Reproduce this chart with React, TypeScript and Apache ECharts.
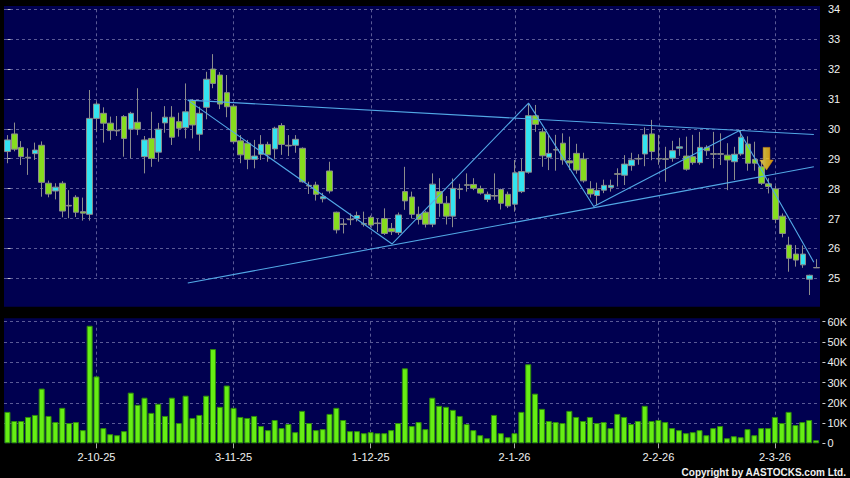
import React, { useEffect, useRef } from "react";
import * as echarts from "echarts";

const dates: string[] = [
  "12-9-25", "15-9-25", "16-9-25", "17-9-25", "18-9-25", "19-9-25", "22-9-25", "23-9-25", "24-9-25", "25-9-25", "26-9-25", "29-9-25", "30-9-25",
  "2-10-25", "3-10-25", "6-10-25", "8-10-25", "9-10-25", "10-10-25", "13-10-25", "14-10-25", "15-10-25", "16-10-25", "17-10-25", "20-10-25", "21-10-25", "22-10-25", "23-10-25", "24-10-25", "27-10-25", "28-10-25", "30-10-25", "31-10-25",
  "3-11-25", "4-11-25", "5-11-25", "6-11-25", "7-11-25", "10-11-25", "11-11-25", "12-11-25", "13-11-25", "14-11-25", "17-11-25", "18-11-25", "19-11-25", "20-11-25", "21-11-25", "24-11-25", "25-11-25", "26-11-25", "27-11-25", "28-11-25",
  "1-12-25", "2-12-25", "3-12-25", "4-12-25", "5-12-25", "8-12-25", "9-12-25", "10-12-25", "11-12-25", "12-12-25", "15-12-25", "16-12-25", "17-12-25", "18-12-25", "19-12-25", "22-12-25", "23-12-25", "24-12-25", "29-12-25", "30-12-25", "31-12-25",
  "2-1-26", "5-1-26", "6-1-26", "7-1-26", "8-1-26", "9-1-26", "12-1-26", "13-1-26", "14-1-26", "15-1-26", "16-1-26", "19-1-26", "20-1-26", "21-1-26", "22-1-26", "23-1-26", "26-1-26", "27-1-26", "28-1-26", "29-1-26", "30-1-26",
  "2-2-26", "3-2-26", "4-2-26", "5-2-26", "6-2-26", "9-2-26", "10-2-26", "11-2-26", "12-2-26", "13-2-26", "16-2-26", "20-2-26", "23-2-26", "24-2-26", "25-2-26", "26-2-26", "27-2-26",
  "2-3-26", "3-3-26", "4-3-26", "5-3-26", "6-3-26", "9-3-26", "10-3-26",
];

const tickLabels: string[] = ["2-10-25", "3-11-25", "1-12-25", "2-1-26", "2-2-26", "2-3-26"];

// [open, close, low, high]
const ohlc: number[][] = [
  [29.24, 29.63, 28.85, 29.79], [29.83, 29.32, 29.25, 30.21], [29.38, 29.07, 28.79, 29.59], [29.05, 29.03, 28.46, 29.35],
  [29.17, 29.29, 28.96, 29.54], [29.45, 28.21, 27.73, 29.58], [28.18, 27.82, 27.71, 28.27], [27.92, 28.05, 27.64, 28.18],
  [28.18, 27.25, 27.04, 28.25], [27.44, 27.42, 27.01, 27.95], [27.71, 27.21, 27.05, 27.78], [27.23, 27.18, 26.93, 27.7],
  [27.14, 30.35, 26.93, 31.3], [30.35, 30.83, 29.9, 30.91], [30.52, 30.19, 29.54, 30.72], [30.19, 29.94, 29.63, 30.41],
  [29.95, 29.93, 29.76, 30.43], [30.41, 29.68, 29.07, 30.46], [29.99, 30.52, 29.01, 30.57], [30.22, 29.99, 29.79, 31.36],
  [29.07, 29.63, 28.51, 29.76], [29.68, 29.01, 28.73, 30.57], [29.22, 29.99, 28.9, 30.2], [30.2, 30.39, 29.87, 30.76],
  [30.39, 29.72, 29.46, 30.76], [30.24, 30.02, 29.74, 30.54], [30.04, 30.57, 29.68, 31.52], [30.94, 30.13, 29.68, 31.0],
  [29.82, 30.52, 29.27, 30.74], [30.72, 31.66, 30.32, 31.91], [32.0, 31.52, 31.36, 32.5], [31.8, 30.83, 30.66, 31.9],
  [31.21, 30.74, 30.39, 31.8], [30.76, 29.57, 29.5, 30.83], [29.6, 29.13, 28.85, 29.79], [29.52, 28.98, 28.65, 29.63],
  [28.98, 29.09, 28.68, 29.63], [29.15, 29.48, 28.96, 29.79], [29.48, 29.13, 28.9, 29.57], [29.33, 30.02, 28.98, 30.07],
  [30.11, 29.48, 29.13, 30.19], [29.45, 29.43, 29.09, 29.79], [29.45, 29.65, 29.2, 29.79], [29.35, 28.23, 28.2, 29.38],
  [28.11, 28.09, 27.82, 28.23], [28.12, 27.81, 27.6, 28.23], [27.66, 27.73, 27.54, 27.86], [28.59, 27.92, 27.84, 28.9],
  [27.21, 26.62, 26.5, 27.23], [26.82, 26.8, 26.5, 27.0], [26.98, 26.96, 26.78, 27.17], [27.0, 27.1, 26.9, 27.23],
  [26.83, 26.81, 26.73, 27.23], [27.04, 26.78, 26.7, 27.1], [26.85, 26.83, 26.55, 27.0], [27.0, 26.5, 26.45, 27.34],
  [26.67, 26.56, 26.45, 26.85], [26.53, 27.12, 26.45, 27.2], [27.9, 27.59, 27.29, 28.73], [27.72, 27.14, 27.0, 27.9],
  [27.14, 26.97, 26.8, 27.4], [27.21, 26.81, 26.7, 27.26], [26.81, 28.15, 26.71, 28.51], [27.9, 27.51, 27.06, 28.35],
  [27.51, 27.08, 26.8, 27.75], [27.08, 28.01, 26.71, 28.34], [27.99, 27.97, 27.66, 28.16], [28.13, 28.11, 27.9, 28.51],
  [28.14, 28.01, 27.95, 28.35], [28.0, 27.85, 27.8, 28.1], [27.64, 27.81, 27.55, 27.9], [27.77, 27.75, 27.62, 28.51],
  [27.97, 27.51, 27.3, 28.0], [27.81, 27.42, 27.35, 27.9], [27.48, 28.53, 27.23, 28.96], [27.9, 28.57, 27.85, 29.0],
  [28.55, 30.44, 28.5, 30.86], [30.44, 30.15, 29.9, 30.8], [29.9, 29.1, 28.73, 30.02], [29.05, 29.18, 28.62, 29.79],
  [29.31, 29.29, 28.6, 29.8], [29.52, 28.96, 28.8, 29.85], [28.93, 28.86, 28.62, 29.74], [29.18, 28.62, 28.5, 29.5],
  [28.99, 28.26, 28.2, 29.2], [27.99, 27.82, 27.7, 28.25], [27.77, 27.94, 27.45, 28.2], [27.95, 28.11, 27.85, 28.3],
  [28.04, 28.11, 27.9, 28.3], [28.5, 28.48, 28.07, 28.68], [28.45, 28.82, 28.12, 29.12], [28.77, 28.96, 28.6, 29.2],
  [29.01, 28.99, 28.8, 29.15], [29.16, 29.8, 28.75, 30.05], [29.83, 29.24, 28.95, 30.3], [29.01, 28.99, 28.8, 29.8],
  [29.0, 28.98, 28.23, 29.4], [29.02, 29.27, 28.9, 29.6], [29.35, 29.4, 29.1, 29.7], [29.09, 28.65, 28.6, 29.74],
  [29.07, 28.87, 28.8, 29.8], [28.87, 29.38, 28.8, 29.9], [29.38, 29.27, 29.1, 29.45], [29.17, 29.15, 28.68, 29.9],
  [29.17, 29.15, 28.79, 29.85], [29.12, 28.96, 27.95, 29.52], [28.9, 29.15, 28.29, 29.4], [29.16, 29.72, 29.1, 29.94],
  [29.49, 28.85, 28.6, 29.75], [28.98, 28.85, 28.6, 29.57], [28.73, 28.18, 28.12, 28.9], [28.16, 28.07, 27.84, 28.35],
  [27.99, 26.97, 26.84, 28.09], [27.08, 26.5, 26.37, 27.17], [26.11, 25.67, 25.22, 26.39], [25.81, 25.61, 25.39, 26.11],
  [25.45, 25.81, 25.35, 26.1], [24.97, 25.1, 24.44, 25.12], [25.36, 25.35, 25.35, 25.64],
];

// volume in thousands of shares
const volumeK: number[] = [
  15.5, 11, 11, 13, 14, 27, 13.5, 10.5, 17.5, 10, 10.5, 6.5, 58,
  33, 7.5, 4.5, 4, 6, 25, 19, 22.5, 15, 19.5, 13.5, 22.5, 10, 23.5, 12.5, 14, 23.5, 46.5, 18, 28.5,
  17.5, 13, 12.5, 13.5, 8.5, 6.5, 11.5, 7.5, 9.5, 5.5, 16, 10, 6.5, 7, 14.5, 17.5, 11.5, 6, 6, 5,
  5.5, 5, 5, 6.5, 10, 37, 8.5, 10.5, 7, 22.5, 18.5, 18, 16.5, 13.5, 9.5, 6.5, 4, 2.5, 14, 5, 3,
  5, 15.5, 39, 24.5, 17, 11, 10.5, 10, 16, 13, 11, 13, 10, 10.5, 7.5, 14.5, 13, 9.5, 11, 18.5, 11,
  11.5, 10.5, 7.5, 6.5, 5, 5.5, 6.5, 4, 7.5, 8.5, 2.5, 3.5, 3, 7, 4, 7.5, 7.5,
  13, 10, 15.5, 9, 10.5, 11.5, 1.5,
];

// drawn trend lines: [bar index, price]
const upperTrend: number[][] = [[26.3, 30.96], [117.6, 29.81]];
const zigzagTrend: number[][] = [[26.3, 30.96], [56.1, 26.15], [76.0, 30.86], [85.5, 27.4], [106.7, 29.94], [117.6, 25.54]];
const lowerTrend: number[][] = [[26.3, 24.84], [117.6, 28.73]];
// signal arrow: [bar index, price at tip]
const signalArrow: number[][] = [[110.7, 28.62]];

const FONT = '"Liberation Sans", Arial, sans-serif';
const GRID_COLOR = "#5a5a96";
const TREND_COLOR = "#52a8e6";

export default function App() {
  const ref = useRef<HTMLDivElement>(null);

  useEffect(() => {
    if (!ref.current) return;
    const chart = echarts.init(ref.current, null, { renderer: "svg" });
    const showTick = (_i: number, v: string) => tickLabels.includes(v);
    const trendSeries = (data: number[][]) => ({
      type: "line",
      xAxisIndex: 2,
      yAxisIndex: 0,
      data,
      symbol: "none",
      clip: false,
      silent: true,
      z: 3,
      lineStyle: { color: TREND_COLOR, width: 1.1 },
    });

    const option: any = {
      animation: false,
      backgroundColor: "#000000",
      graphic: {
        elements: [
          { type: "rect", z: -10, silent: true, shape: { x: 4, y: 6, width: 816, height: 300.7 }, style: { fill: "#000050" } },
          { type: "rect", z: -10, silent: true, shape: { x: 4, y: 318.3, width: 816, height: 125 }, style: { fill: "#000050" } },
          {
            type: "text",
            x: 846,
            y: 472,
            z: 10,
            style: {
              text: "Copyright by AASTOCKS.com Ltd.",
              align: "right",
              verticalAlign: "middle",
              fill: "#f0f0f0",
              fontSize: 10,
              fontWeight: "bold",
              fontFamily: FONT,
            },
          },
        ],
      },
      grid: [
        { left: 4, right: 30, top: 9.3, height: 269 },
        { left: 4, right: 30, top: 321.7, height: 121.6 },
      ],
      xAxis: [
        {
          type: "category",
          gridIndex: 0,
          data: dates,
          boundaryGap: true,
          axisLine: { show: false },
          axisTick: { show: false },
          axisLabel: { show: false },
          splitLine: { show: true, interval: showTick, alignWithLabel: true, lineStyle: { color: GRID_COLOR, type: [3, 3] } },
        },
        {
          type: "category",
          gridIndex: 1,
          data: dates,
          boundaryGap: true,
          axisLine: { show: false },
          axisTick: { show: true, alignWithLabel: true, interval: showTick, length: 5, lineStyle: { color: "#aaaaaa" } },
          axisLabel: { interval: showTick, color: "#f0f0f0", fontSize: 11, fontFamily: FONT, margin: 8 },
          splitLine: { show: true, interval: showTick, alignWithLabel: true, lineStyle: { color: GRID_COLOR, type: [3, 3] } },
        },
        { type: "value", gridIndex: 0, min: -0.5, max: 118.5, show: false },
      ],
      yAxis: [
        {
          type: "value",
          gridIndex: 0,
          position: "right",
          min: 25,
          max: 34,
          interval: 1,
          offset: 3,
          axisLine: { show: false },
          axisTick: { show: true, length: 3, lineStyle: { color: "#cccccc" } },
          axisLabel: { color: "#f0f0f0", fontSize: 11, fontFamily: FONT, margin: 5 },
          splitLine: { show: true, lineStyle: { color: GRID_COLOR, type: [3, 3] } },
        },
        {
          type: "value",
          gridIndex: 1,
          position: "right",
          min: 0,
          max: 60,
          interval: 10,
          offset: 3,
          axisLine: { show: false },
          axisTick: { show: true, length: 3, lineStyle: { color: "#cccccc" } },
          axisLabel: {
            color: "#f0f0f0",
            fontSize: 11,
            fontFamily: FONT,
            margin: 5,
            formatter: (v: number) => (v === 0 ? "0" : v + "K"),
          },
          splitLine: {
            show: true,
            lineStyle: {
              color: ["rgba(0,0,0,0)", GRID_COLOR, GRID_COLOR, GRID_COLOR, GRID_COLOR, GRID_COLOR, GRID_COLOR],
              type: [3, 3],
            },
          },
        },
      ],
      series: [
        {
          type: "candlestick",
          xAxisIndex: 0,
          yAxisIndex: 0,
          data: ohlc,
          barWidth: 6,
          clip: false,
          z: 2,
          itemStyle: {
            color: "#33e4f0",
            color0: "#86dc1e",
            borderColor: "#8c8c8c",
            borderColor0: "#8c8c8c",
            borderWidth: 1,
          },
        },
        trendSeries(upperTrend),
        trendSeries(zigzagTrend),
        trendSeries(lowerTrend),
        {
          type: "scatter",
          xAxisIndex: 2,
          yAxisIndex: 0,
          data: signalArrow,
          z: 5,
          symbol: "path://M3.3,0 L10,0 L10,12.7 L13.3,12.7 L6.65,22.7 L0,12.7 L3.3,12.7 Z",
          symbolSize: [13.3, 22.7],
          symbolOffset: [0, -11.35],
          itemStyle: {
            color: new echarts.graphic.LinearGradient(0, 0, 1, 0, [
              { offset: 0, color: "#fff27a" },
              { offset: 0.5, color: "#ffd21e" },
              { offset: 1, color: "#ffb000" },
            ]),
            borderColor: "#e89a00",
            borderWidth: 0.6,
          },
        },
        {
          type: "bar",
          xAxisIndex: 1,
          yAxisIndex: 1,
          data: volumeK,
          barWidth: 6,
          itemStyle: { color: "#66ee14", borderColor: "#2f8c0c", borderWidth: 1 },
        },
      ],
    };
    chart.setOption(option);
    return () => chart.dispose();
  }, []);

  return (
    <div
      ref={ref}
      style={{ position: "fixed", left: 0, top: 0, width: 850, height: 478, background: "#000" }}
    />
  );
}
